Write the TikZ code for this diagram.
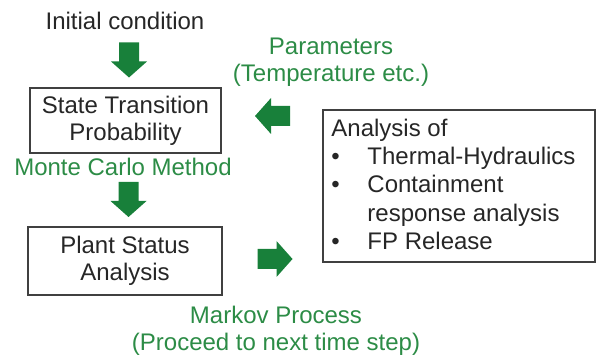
\documentclass[tikz,border=0pt]{standalone}
\usepackage{fontspec}
\setmainfont{Liberation Sans}
\usetikzlibrary{positioning}

\definecolor{arrowgreen}{RGB}{24,128,58}
\definecolor{labelgreen}{RGB}{44,140,70}
\definecolor{inkgray}{RGB}{38,38,38}
\definecolor{framegray}{RGB}{64,64,64}

\tikzset{
  stepbox/.style={draw=framegray,line width=1.5pt,align=center,inner sep=0pt},
  greenlabel/.style={text=labelgreen,align=center},
  blockarrow/.pic={
    \fill[arrowgreen] (-17.5,-10) -- (1.5,-10) -- (1.5,-18) -- (17.5,0)
      -- (1.5,18) -- (1.5,10) -- (-17.5,10) -- cycle;
  }
}

\begin{document}
\begin{tikzpicture}[x=1pt,y=1pt,font=\fontsize{24}{27}\selectfont,text=inkgray]
  \useasboundingbox (0,0) rectangle (602,356);

  % left column
  \node (initial) at (125,335.5) {Initial condition};
  \pic[rotate=-90] at (129,296) {blockarrow};
  \node[stepbox,minimum width=191pt,minimum height=65pt] (transition) at (125.5,235.5)
    {State Transition\\Probability};
  \node[greenlabel] (montecarlo) at (123,189.5) {Monte Carlo Method};
  \pic[rotate=-90] at (128.5,156.5) {blockarrow};
  \node[stepbox,minimum width=194pt,minimum height=68pt] (plant) at (125,95)
    {Plant Status\\Analysis};

  % right side
  \node[greenlabel] (params) at (331,294) {Parameters\\(Temperature etc.)};
  \pic[rotate=180] at (272.5,240) {blockarrow};
  \node[draw=framegray,line width=1.5pt,minimum width=272pt,minimum height=152pt,inner sep=0pt]
    (analysisbox) at (459,170) {};
  \node[anchor=north west,align=left,inner sep=0pt,font=\fontsize{24}{28.3}\selectfont]
    (analysislist) at ([xshift=9pt,yshift=-9.5pt]analysisbox.north west)
    {Analysis of\\
     \makebox[36pt][l]{\textbullet}Thermal-Hydraulics\\
     \makebox[36pt][l]{\textbullet}Containment\\
     \hspace*{36pt}response analysis\\
     \makebox[36pt][l]{\textbullet}FP Release};
  \pic at (275,97) {blockarrow};
  \node[greenlabel] (markov) at (276,25) {Markov Process\\(Proceed to next time step)};
\end{tikzpicture}
\end{document}
